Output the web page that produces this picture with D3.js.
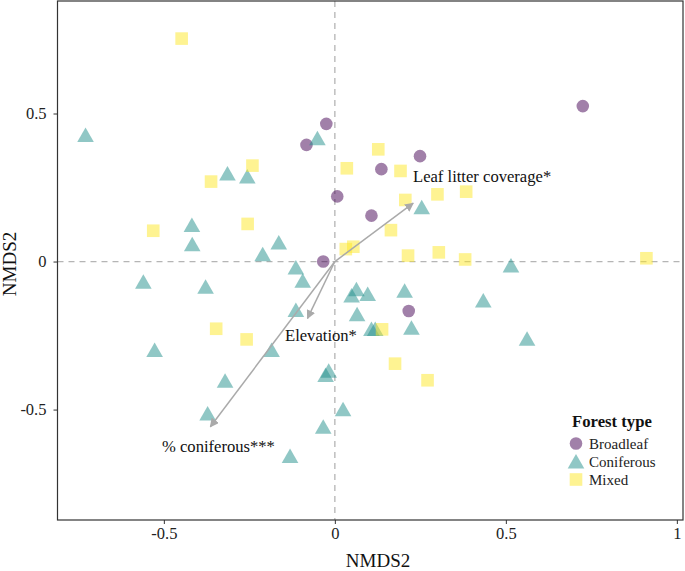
<!DOCTYPE html>
<html><head><meta charset="utf-8">
<script src="https://cdn.jsdelivr.net/npm/d3@7"></script>
<style>body{margin:0;background:#fff}svg{display:block}</style>
</head><body>
<svg id="c" width="685" height="571"></svg>
<script>
const broadleaf = [[0.725,0.525],[-0.025,0.465],[-0.083,0.394],[0.249,0.356],[0.136,0.312],[0.007,0.220],[0.107,0.155],[-0.034,0.0],[0.216,-0.167]];
const coniferous = [[-0.729,0.427],[-0.051,0.416],[-0.314,0.297],[-0.256,0.287],[0.254,0.183],[-0.418,0.123],[-0.417,0.058],[-0.164,0.064],[-0.211,0.025],[-0.114,-0.020],[-0.094,-0.065],[-0.114,-0.164],[-0.185,-0.299],[0.063,-0.094],[0.049,-0.115],[0.096,-0.110],[0.204,-0.099],[0.065,-0.178],[0.107,-0.228],[0.118,-0.228],[0.224,-0.224],[-0.018,-0.369],[-0.027,-0.383],[0.024,-0.499],[-0.034,-0.558],[-0.131,-0.657],[-0.560,-0.068],[-0.378,-0.085],[-0.527,-0.299],[-0.321,-0.403],[-0.372,-0.513],[0.515,-0.013],[0.434,-0.132],[0.562,-0.261]];
const mixed = [[-0.448,0.753],[-0.241,0.324],[-0.362,0.270],[-0.531,0.104],[-0.255,0.127],[0.127,0.379],[0.035,0.315],[0.192,0.306],[0.300,0.227],[0.384,0.236],[0.206,0.208],[0.164,0.106],[0.032,0.042],[0.054,0.050],[0.214,0.020],[0.304,0.031],[0.381,0.007],[0.911,0.011],[0.138,-0.229],[0.176,-0.345],[0.271,-0.401],[-0.347,-0.227],[-0.258,-0.263]];
const vectors = [
  {name:"Leaf litter coverage*", x:0.229, y:0.197},
  {name:"Elevation*", x:-0.080, y:-0.192},
  {name:"% coniferous***", x:-0.364, y:-0.558}
];
const xTicks = [-0.5, 0, 0.5, 1];
const yTicks = [-0.5, 0, 0.5];
const groups = ["Broadleaf","Coniferous","Mixed"];
const colors = ["#440154","#21908C","#FDE725"];

const svg = d3.select("#c");
const font = "'Liberation Serif','Times New Roman',serif";
const L=57.5,R=683,T=1,B=520;
const x = d3.scaleLinear().domain([-0.811,1.018]).range([L,R]);
const y = d3.scaleLinear().domain([-0.873,0.880]).range([B,T]);

// reference lines
svg.append("line").attr("x1",L).attr("x2",R).attr("y1",y(0)).attr("y2",y(0))
  .attr("stroke","#b5b5b5").attr("stroke-width",1.3).attr("stroke-dasharray","6,5");
svg.append("line").attr("x1",x(0)).attr("x2",x(0)).attr("y1",T).attr("y2",B)
  .attr("stroke","#b5b5b5").attr("stroke-width",1.3).attr("stroke-dasharray","6,5");

// axes
const fmt = d => d===0?"0":(d===1?"1":String(d));
const gx = svg.append("g").attr("transform",`translate(0,${B})`)
  .call(d3.axisBottom(x).tickValues(xTicks).tickFormat(fmt).tickSize(4).tickPadding(3));
const gy = svg.append("g").attr("transform",`translate(${L},0)`)
  .call(d3.axisLeft(y).tickValues(yTicks).tickFormat(fmt).tickSize(4).tickPadding(7));
[gx,gy].forEach(g=>{
  g.select(".domain").remove();
  g.selectAll(".tick line").attr("stroke","#333");
  g.selectAll("text").attr("font-family",font).attr("font-size",16.5).attr("fill","#222");
});

const shape = (sel, k) => {
  if (k===0) return sel.append("circle").attr("r",6.3);
  if (k===1) return sel.append("path").attr("d","M0,-7.5L8.3,7L-8.3,7Z");
  return sel.append("rect").attr("x",-6.3).attr("y",-6.3).attr("width",12.6).attr("height",12.6);
};
[broadleaf,coniferous,mixed].forEach((arr,k)=>{
  arr.forEach(p=>{
    const g = svg.append("g").attr("transform",`translate(${x(p[0])},${y(p[1])})`);
    shape(g,k).attr("fill",colors[k]).attr("fill-opacity",0.5);
  });
});

// arrows
const defs = svg.append("defs");
defs.append("marker").attr("id","ah").attr("viewBox","0 0 10 10").attr("refX",9).attr("refY",5)
  .attr("markerWidth",9).attr("markerHeight",9).attr("markerUnits","userSpaceOnUse").attr("orient","auto")
  .append("path").attr("d","M0,0L10,5L0,10Z").attr("fill","#aaaaaa");
vectors.forEach(v=>{
  svg.append("line").attr("x1",x(0)).attr("y1",y(0)).attr("x2",x(v.x)).attr("y2",y(v.y))
    .attr("stroke","#aaaaaa").attr("stroke-width",1.5).attr("marker-end","url(#ah)");
});
const labPos = [[413,182],[285,341],[162,452]];
vectors.forEach((v,i)=>{
  svg.append("text").attr("x",labPos[i][0]).attr("y",labPos[i][1]).text(v.name)
    .attr("font-family",font).attr("font-size",16.6).attr("fill","#111");
});

// panel border
svg.append("rect").attr("x",L).attr("y",T).attr("width",R-L).attr("height",B-T)
  .attr("fill","none").attr("stroke","#333").attr("stroke-width",1.2);

// axis titles
svg.append("text").attr("x",378).attr("y",566.5).attr("text-anchor","middle").text("NMDS2")
  .attr("font-family",font).attr("font-size",19).attr("fill","#111");
svg.append("text").attr("transform",`translate(15.5,264) rotate(-90)`).attr("text-anchor","middle").text("NMDS2")
  .attr("font-family",font).attr("font-size",19).attr("fill","#111");

// legend
const lg = svg.append("g");
lg.append("text").attr("x",572).attr("y",427).text("Forest type").attr("font-family",font)
  .attr("font-size",16.7).attr("font-weight","bold").attr("fill","#111");
groups.forEach((gname,k)=>{
  const yy = 443.5 + k*18;
  const g = lg.append("g").attr("transform",`translate(576,${yy})`);
  shape(g,k).attr("fill",colors[k]).attr("fill-opacity",0.5);
  lg.append("text").attr("x",589).attr("y",yy+5).text(gname).attr("font-family",font)
    .attr("font-size",15).attr("fill","#222");
});
</script>
</body></html>
